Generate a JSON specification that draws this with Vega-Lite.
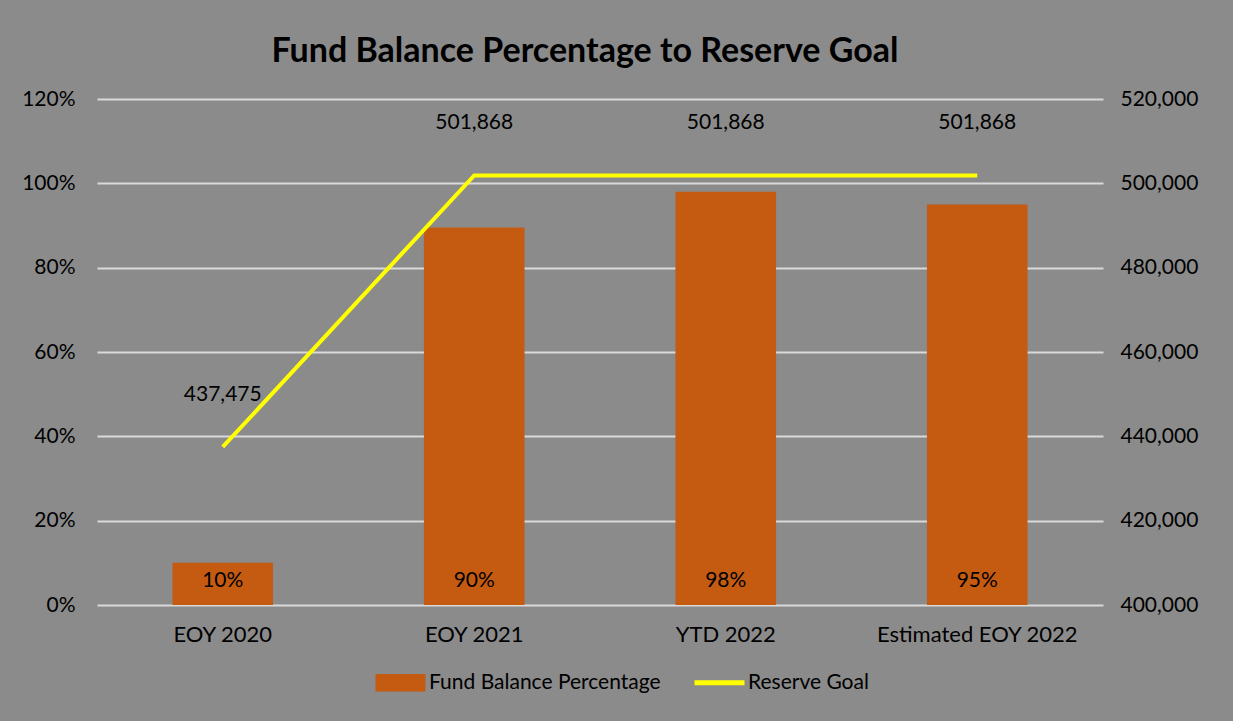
{
  "$schema": "https://vega.github.io/schema/vega-lite/v6.json",
  "autosize": {"type": "none"},
  "padding": {"left": 97, "top": 99, "right": 130, "bottom": 116},
  "width": 1006,
  "height": 506,
  "background": "#8b8b8b",
  "title": {
    "text": "Fund Balance Percentage to Reserve Goal",
    "fontSize": 34,
    "fontWeight": "bold",
    "font": "Lato",
    "color": "#000000",
    "anchor": "middle",
    "dx": -15,
    "offset": 19
  },
  "config": {
    "view": {"stroke": null},
    "font": "Lato",
    "axis": {"labelFont": "Lato", "labelFontSize": 21, "labelColor": "#000000", "labelLimit": 0},
    "legend": {"labelFont": "Lato", "labelFontSize": 21, "labelColor": "#000000", "labelLimit": 0}
  },
  "data": {
    "values": [
      {"period": "EOY 2020", "pct": 0.10, "goal": 437475, "pctLabel": "10%"},
      {"period": "EOY 2021", "pct": 0.895, "goal": 501868, "pctLabel": "90%"},
      {"period": "YTD 2022", "pct": 0.98, "goal": 501868, "pctLabel": "98%"},
      {"period": "Estimated EOY 2022", "pct": 0.95, "goal": 501868, "pctLabel": "95%"}
    ]
  },
  "encoding": {
    "x": {
      "field": "period",
      "type": "nominal",
      "sort": null,
      "scale": {"paddingInner": 0.6, "paddingOuter": 0.3},
      "axis": {
        "title": null,
        "labelAngle": 0,
        "labelFontSize": 22,
        "ticks": false,
        "domain": false,
        "labelPadding": 19
      }
    }
  },
  "layer": [
    {
      "layer": [
        {
          "mark": {"type": "bar"},
          "encoding": {
            "y": {
              "field": "pct",
              "type": "quantitative",
              "scale": {"domain": [0, 1.2]},
              "axis": {
                "title": null,
                "format": ".0%",
                "values": [0, 0.2, 0.4, 0.6, 0.8, 1.0, 1.2],
                "grid": true,
                "gridColor": "#d9d9d9",
                "gridWidth": 2,
                "ticks": false,
                "domain": false,
                "labelPadding": 22
              }
            },
            "color": {
              "datum": "Fund Balance Percentage",
              "type": "nominal",
              "scale": {"domain": ["Fund Balance Percentage", "Reserve Goal"], "range": ["#C55A11", "#FFFF00"]},
              "legend": {
                "title": null,
                "orient": "none",
                "direction": "horizontal",
                "legendX": 293,
                "legendY": 573,
                "labelOffset": 18,
                "columnPadding": 23,
                "symbolSize": 2500,
                "encode": {
                  "symbols": {
                    "update": {
                      "shape": {"signal": "datum.value === 'Reserve Goal' ? 'stroke' : 'M-1,-0.35H1V0.35H-1Z'"},
                      "size": {"value": 2500},
                      "fill": {"signal": "datum.value === 'Reserve Goal' ? 'transparent' : '#C55A11'"},
                      "stroke": {"signal": "datum.value === 'Reserve Goal' ? '#FFFF00' : 'transparent'"},
                      "strokeWidth": {"signal": "datum.value === 'Reserve Goal' ? 5 : 0"},
                      "opacity": {"value": 1},
                      "fillOpacity": {"value": 1},
                      "strokeOpacity": {"value": 1}
                    }
                  }
                }
              }
            }
          }
        },
        {
          "mark": {"type": "text", "fontSize": 21, "color": "#000000", "baseline": "middle", "dy": -24},
          "encoding": {
            "y": {"datum": 0, "type": "quantitative"},
            "text": {"field": "pctLabel"}
          }
        }
      ]
    },
    {
      "layer": [
        {
          "mark": {"type": "line", "strokeWidth": 4},
          "encoding": {
            "y": {
              "field": "goal",
              "type": "quantitative",
              "scale": {"domain": [400000, 520000], "zero": false},
              "axis": {
                "title": null,
                "orient": "right",
                "format": ",.0f",
                "values": [400000, 420000, 440000, 460000, 480000, 500000, 520000],
                "grid": false,
                "ticks": false,
                "domain": false,
                "labelPadding": 17
              }
            },
            "color": {"datum": "Reserve Goal", "type": "nominal"}
          }
        },
        {
          "mark": {"type": "text", "fontSize": 21, "color": "#000000", "baseline": "middle", "dy": -52},
          "encoding": {
            "y": {"field": "goal", "type": "quantitative"},
            "text": {"field": "goal", "type": "quantitative", "format": ",.0f"}
          }
        }
      ],
      "resolve": {"scale": {"y": "shared"}}
    }
  ],
  "resolve": {"scale": {"y": "independent"}}
}
